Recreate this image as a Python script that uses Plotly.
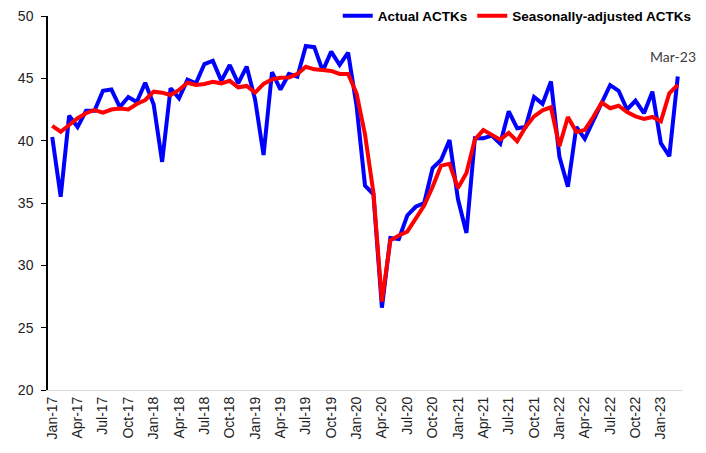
import plotly.graph_objects as go

months = ["Jan", "Feb", "Mar", "Apr", "May", "Jun", "Jul", "Aug", "Sep", "Oct", "Nov", "Dec"]
categories = [f"{m}-{y}" for y in range(17, 24) for m in months][:75]  # Jan-17 .. Mar-23

actual = [
    40.3, 35.5, 42.0, 41.1, 42.4, 42.4, 44.0, 44.1, 42.7, 43.5, 43.1, 44.65,
    42.9, 38.3, 44.2, 43.4, 44.9, 44.6, 46.15, 46.4, 44.8, 46.07, 44.6, 45.94,
    43.3, 38.85, 45.5, 44.1, 45.35, 45.13, 47.6, 47.5, 45.6, 47.14, 46.07, 47.06,
    42.8, 36.4, 35.7, 26.6, 32.2, 32.1, 34.0, 34.7, 35.0, 37.8, 38.45, 40.06,
    35.3, 32.6, 40.2, 40.2, 40.4, 39.75, 42.35, 41.0, 41.1, 43.5, 42.95, 44.75,
    38.7, 36.3, 41.1, 40.15, 41.6, 43.0, 44.45, 44.0, 42.5, 43.2, 42.2, 43.93,
    39.8, 38.75, 45.15,
]

seasonally_adjusted = [
    41.18, 40.72, 41.26, 41.8, 42.2, 42.46, 42.25, 42.5, 42.57, 42.5, 42.94, 43.26,
    43.93, 43.85, 43.66, 44.07, 44.65, 44.47, 44.55, 44.73, 44.6, 44.8, 44.28, 44.39,
    43.85, 44.55, 44.92, 45.05, 45.07, 45.35, 45.93, 45.72, 45.67, 45.59, 45.35, 45.35,
    43.8, 40.5, 35.8, 27.1, 32.0, 32.4, 32.7, 33.7, 34.8, 36.3, 38.0, 38.15,
    36.2, 37.4, 40.1, 40.85, 40.46, 40.08, 40.62, 39.95, 41.1, 41.95, 42.43, 42.68,
    39.55, 41.9, 40.7, 40.86, 41.9, 43.05, 42.6, 42.8, 42.3, 41.95, 41.75, 41.9,
    41.55, 43.8, 44.47,
]

tick_labels = categories[::3]
y_ticks = [20, 25, 30, 35, 40, 45, 50]
annotation_text = "Mar-23"

fig = go.Figure()
fig.add_trace(go.Scatter(x=categories, y=actual, mode="lines", name="Actual ACTKs",
                         line=dict(color="#0000FF", width=4)))
fig.add_trace(go.Scatter(x=categories, y=seasonally_adjusted, mode="lines",
                         name="Seasonally-adjusted ACTKs",
                         line=dict(color="#FF0000", width=4)))

fig.add_annotation(x=categories[-1], y=actual[-1], text=annotation_text, showarrow=False,
                   yshift=20, xshift=-5, font=dict(family="Lato", size=14, color="#404040"))

fig.update_layout(
    width=706, height=453,
    margin=dict(l=40, r=32, t=8, b=71, autoexpand=False),
    paper_bgcolor="white", plot_bgcolor="white",
    font=dict(family="Liberation Sans, Arial", size=13, color="#222222"),
    showlegend=True,
    legend=dict(orientation="h", x=0.457, xanchor="left", y=1.0, yanchor="middle",
                font=dict(family="Liberation Sans, Arial", size=13.5, color="#000000", weight="bold"),
                bgcolor="rgba(0,0,0,0)", itemwidth=30, tracegroupgap=0),
)
fig.update_xaxes(type="category", range=[-0.5, 74.5], tickmode="array",
                 tickvals=tick_labels, ticktext=tick_labels, tickangle=-90,
                 showgrid=False, showline=True, linecolor="#d9d9d9", linewidth=1,
                 ticks="", tickfont=dict(size=14), ticklabeloverflow="allow")
fig.update_yaxes(range=[20, 50], tickmode="array", tickvals=y_ticks,
                 showgrid=False, zeroline=False,
                 showline=True, linecolor="black", linewidth=1.5, ticks="outside",
                 ticklen=5, tickcolor="black", tickfont=dict(size=14),
                 ticklabelstandoff=5, ticklabeloverflow="allow")

fig.write_html("out.html")
